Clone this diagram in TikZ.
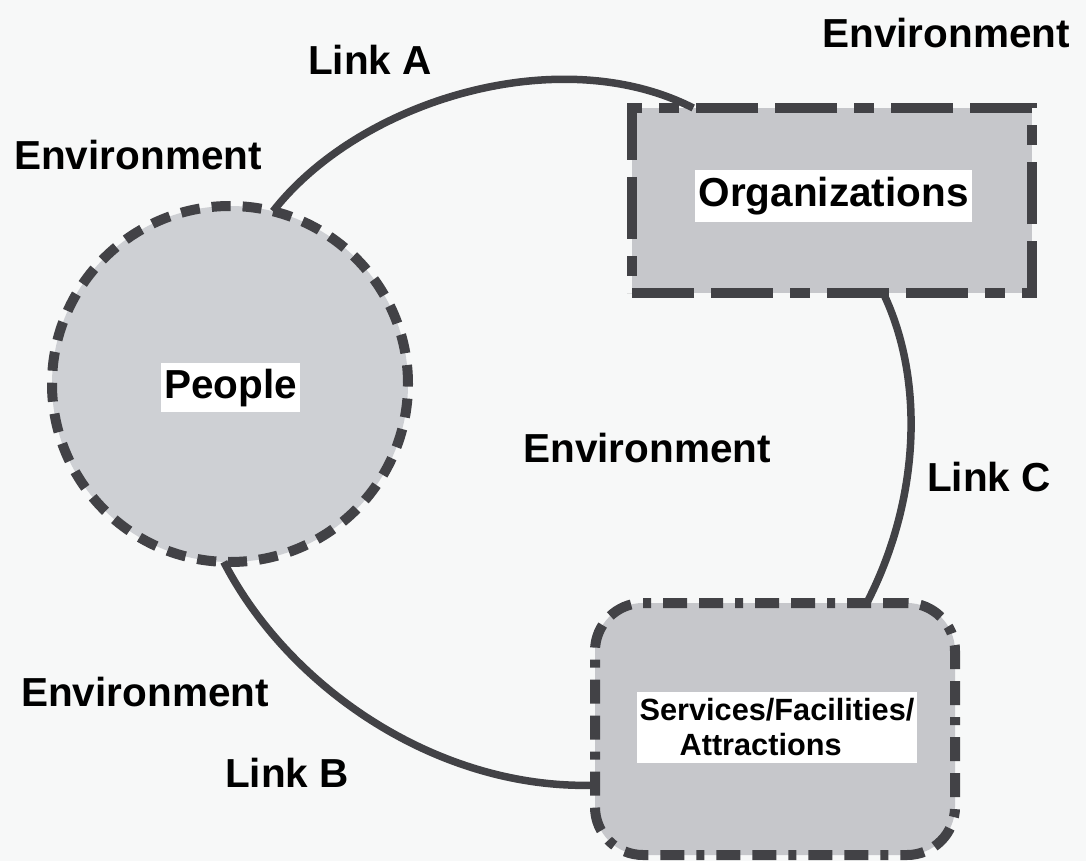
\documentclass[tikz,border=0pt]{standalone}
\usepackage{fontspec}
\setmainfont{Liberation Sans}
\usetikzlibrary{calc}
\definecolor{shapefill}{RGB}{198,199,203}
\definecolor{circfill}{RGB}{206,208,212}
\definecolor{inkgray}{RGB}{66,66,70}
\definecolor{paper}{RGB}{247,248,248}
\begin{document}
\begin{tikzpicture}[x=1pt,y=-1pt,
  lbl/.style={font=\fontsize{40.5}{48}\selectfont\bfseries, inner sep=0pt},
  boxlbl/.style={lbl, fill=white, text height=30pt, text depth=9pt, inner xsep=3pt, inner ysep=5pt},
  link/.style={draw=inkgray, line width=7.5pt},
  area/.style={draw=inkgray, fill=shapefill, line width=10pt, outer sep=0pt, inner sep=0pt}
]
\fill[paper] (0,0) rectangle (1086,861);
\useasboundingbox (0,0) rectangle (1086,861);

% shapes
\node[area, fill=circfill, circle, minimum size=356pt, dash pattern=on 19pt off 12pt] (people) at (230,384) {};
\node[area, rectangle, minimum width=400pt, minimum height=185pt,
      dash pattern=on 62pt off 17pt on 62pt off 17pt on 20pt off 17pt] (org) at (832,200.5) {};
\node[area, rectangle, rounded corners=48pt, minimum width=360pt, minimum height=252pt,
      dash pattern=on 24pt off 12pt on 24pt off 12pt on 8pt off 12pt] (serv) at (775,729) {};

% connectors
\coordinate (aend) at ($(org.north west)!0.153!(org.north east)$);
\draw[link] (people.76) .. controls (360,100) and (560,40) .. (aend);
\coordinate (cstart) at ($(org.south west)!0.628!(org.south east)$);
\coordinate (cend) at ($(serv.north west)!0.755!(serv.north east)$);
\draw[link] (cstart) .. controls (925,380) and (920,500) .. (cend);
\coordinate (bend) at ($(serv.north west)!0.723!(serv.south west)$);
\draw[link] (people.-92) .. controls (290,690) and (440,790) .. (bend);

% labels inside shapes
\node[boxlbl] (peoplelbl) at (230.5,387.5) {People};
\node[boxlbl, inner ysep=6.5pt] (orglbl) at (833.5,196) {Organizations};
\node[fill=white, font=\fontsize{30.7}{35}\selectfont\bfseries, align=left,
      inner xsep=2.5pt, inner ysep=7pt] (servlbl) at (777,727.5)
      {Services/Facilities/\\\hspace*{40pt}Attractions};

% free labels
\node[lbl] (envtr) at (946,33) {Environment};
\node[lbl] (envl) at (138,155) {Environment};
\node[lbl] (envc) at (647,448) {Environment};
\node[lbl] (envbl) at (145,692) {Environment};
\node[lbl] (linka) at (370,60) {Link A};
\node[lbl] (linkc) at (989,477) {Link C};
\node[lbl] (linkb) at (287,773) {Link B};
\end{tikzpicture}
\end{document}
